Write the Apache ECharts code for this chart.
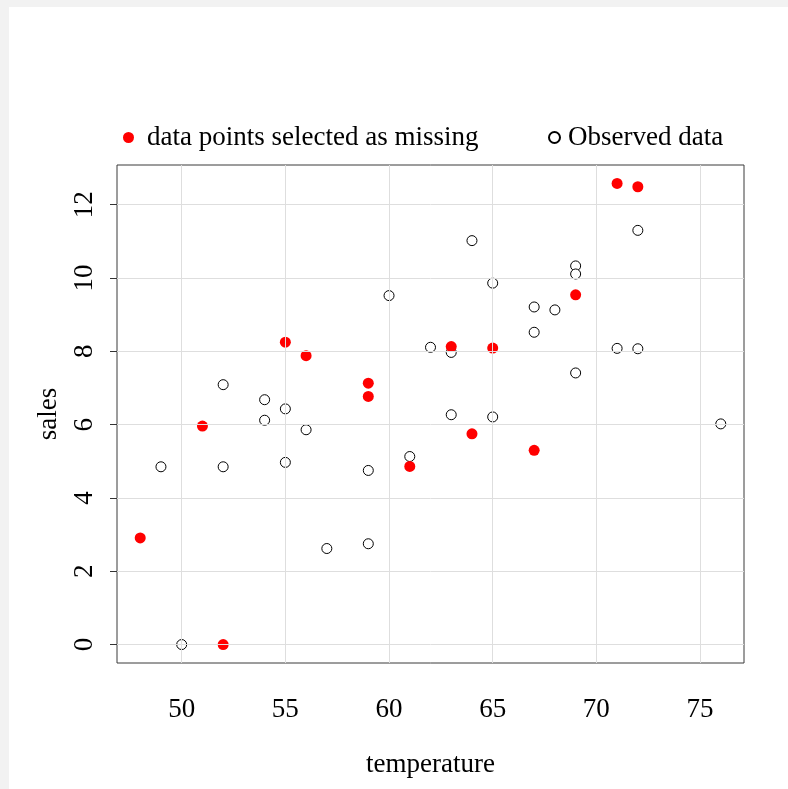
<!DOCTYPE html>
<html>
<head>
<meta charset="utf-8">
<script src="https://cdn.jsdelivr.net/npm/echarts@6/dist/echarts.min.js"></script>
<style>
  html, body { margin: 0; padding: 0; background: #f2f2f2; }
  #frame { position: absolute; left: 9px; top: 7px; width: 779px; height: 782px; background: #ffffff; }
  #chart { position: absolute; left: -9px; top: -7px; width: 788px; height: 789px; }
</style>
</head>
<body>
<div id="frame"><div id="chart"></div></div>
<script>
// temperature / sales pairs for the points chosen to be treated as missing
const missingTemp  = [48, 51, 52, 55, 56, 59, 59, 61, 63, 64, 65, 67, 69, 71, 72];
const missingSales = [2.91, 5.96, 0, 8.25, 7.88, 7.13, 6.77, 4.86, 8.13, 5.75, 8.09, 5.30, 9.54, 12.58, 12.49];

// temperature / sales pairs that stay observed
const observedTemp  = [49, 50, 52, 52, 54, 54, 55, 55, 56, 57, 59, 59, 60, 61, 62,
                       63, 63, 64, 65, 65, 67, 67, 68, 69, 69, 69, 71, 72, 72, 76];
const observedSales = [4.85, 0, 7.09, 4.85, 6.68, 6.12, 6.43, 4.97, 5.86, 2.62, 4.75, 2.75, 9.52, 5.13, 8.11,
                       7.97, 6.27, 11.02, 9.86, 6.21, 9.21, 8.52, 9.13, 10.33, 10.11, 7.41, 8.08, 8.07, 11.30, 6.02];

const xTicks = [50, 55, 60, 65, 70, 75];
const yTicks = [0, 2, 4, 6, 8, 10, 12];

const xName = 'temperature';
const yName = 'sales';
const missingName = 'data points selected as missing';
const observedName = 'Observed data';

const pair = (xs, ys) => xs.map((x, i) => [x, ys[i]]);

// axis extents padded by 4% of the data range on each side
function padded(vals) {
  const lo = Math.min(...vals), hi = Math.max(...vals), d = (hi - lo) * 0.04;
  return [lo - d, hi + d];
}
const xExt = padded(missingTemp.concat(observedTemp));
const yExt = padded(missingSales.concat(observedSales));

const FONT = 'Liberation Serif';
const FS = 27;
const chart = echarts.init(document.getElementById('chart'), null, { renderer: 'canvas' });

chart.setOption({
  animation: false,
  backgroundColor: 'transparent',
  grid: {
    left: 117, right: 44, top: 165, bottom: 126,
    show: true, borderColor: '#3a3a3a', borderWidth: 1, backgroundColor: 'transparent'
  },
  legend: [
    {
      data: [missingName], left: 118, top: 119, orient: 'horizontal',
      itemWidth: 11, itemHeight: 11, icon: 'circle',
      textStyle: { fontFamily: FONT, fontSize: FS, color: '#000', padding: [0, 0, 0, 8] }
    },
    {
      data: [observedName], left: 543, top: 119, orient: 'horizontal',
      itemWidth: 11, itemHeight: 11, icon: 'circle',
      textStyle: { fontFamily: FONT, fontSize: FS, color: '#000', padding: [0, 0, 0, 3] }
    }
  ],
  xAxis: {
    type: 'value', min: xExt[0], max: xExt[1],
    name: xName, nameLocation: 'middle', nameGap: 88,
    nameTextStyle: { fontFamily: FONT, fontSize: FS, color: '#000' },
    axisLine: { show: false },
    axisTick: { show: true, length: 8, customValues: xTicks, lineStyle: { color: '#333' } },
    axisLabel: { customValues: xTicks, margin: 33, fontFamily: FONT, fontSize: FS, color: '#000' },
    splitLine: { show: false }
  },
  yAxis: {
    type: 'value', min: yExt[0], max: yExt[1],
    name: yName, nameLocation: 'middle', nameGap: 55,
    nameTextStyle: { fontFamily: FONT, fontSize: FS, color: '#000' },
    axisLine: { show: false },
    axisTick: { show: true, length: 7, customValues: yTicks, lineStyle: { color: '#333' } },
    axisLabel: { customValues: yTicks, rotate: 90, margin: 19, fontFamily: FONT, fontSize: FS, color: '#000' },
    splitLine: { show: false }
  },
  series: [
    {
      // reference grid lines at the tick positions
      type: 'scatter', data: [], silent: true, z: 1,
      markLine: {
        silent: true, symbol: 'none', label: { show: false }, animation: false,
        lineStyle: { color: '#dedede', width: 1, type: 'solid' },
        data: xTicks.map(v => ({ xAxis: v })).concat(yTicks.map(v => ({ yAxis: v })))
      }
    },
    {
      name: observedName, type: 'scatter', symbol: 'circle', symbolSize: 10, z: 3,
      itemStyle: { color: '#ffffff', borderColor: '#000000', borderWidth: 1, opacity: 1 },
      data: pair(observedTemp, observedSales)
    },
    {
      name: missingName, type: 'scatter', symbol: 'circle', symbolSize: 11, z: 4,
      itemStyle: { color: '#ff0000', opacity: 1 },
      data: pair(missingTemp, missingSales)
    }
  ]
});
</script>
</body>
</html>
